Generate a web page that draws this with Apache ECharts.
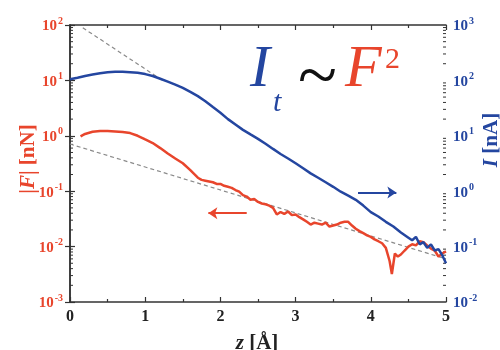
<!DOCTYPE html>
<html><head><meta charset="utf-8">
<script src="https://cdn.jsdelivr.net/npm/echarts@6/dist/echarts.min.js"></script>
<style>html,body{margin:0;padding:0;background:#fff}#c{width:500px;height:350px}</style>
</head><body><div id="c"></div>
<script>
// ---- data ----
const blueZ = [0.0,0.1,0.2,0.3,0.4,0.5,0.6,0.7,0.8,0.9,1.0,1.1,1.2,1.3,1.4,1.5,1.6,1.7,1.8,1.9,2.0,2.1,2.2,2.3,2.4,2.5,2.6,2.7,2.8,2.9,3.0,3.1,3.2,3.3,3.4,3.5,3.6,3.7,3.8,3.9,4.0,4.1,4.2,4.3,4.4,4.5,4.55,4.6,4.65,4.7,4.75,4.8,4.85,4.9,4.95,5.0];
const blueI = [105,112,120,128,135,140,143,143,141,137,130,120,107,95,84,73,62,52,42,33,26,20,16,12.8,10.6,8.8,7.2,5.8,4.7,3.9,3.2,2.6,2.1,1.75,1.45,1.2,0.98,0.83,0.7,0.55,0.42,0.35,0.28,0.23,0.18,0.145,0.13,0.15,0.11,0.12,0.095,0.11,0.085,0.09,0.07,0.05];
const redZ = [0.14,0.2,0.3,0.4,0.5,0.6,0.7,0.8,0.9,1.0,1.1,1.2,1.3,1.4,1.5,1.6,1.7,1.75,1.8,1.85,1.9,1.95,2.0,2.05,2.1,2.15,2.2,2.25,2.3,2.35,2.4,2.45,2.5,2.55,2.6,2.65,2.7,2.75,2.8,2.85,2.9,2.95,3.0,3.05,3.1,3.15,3.2,3.25,3.3,3.35,3.4,3.45,3.5,3.55,3.6,3.65,3.7,3.75,3.8,3.85,3.9,3.95,4.0,4.05,4.1,4.15,4.2,4.25,4.28,4.32,4.36,4.4,4.45,4.5,4.55,4.6,4.65,4.7,4.75,4.8,4.85,4.9,4.95,5.0];
const redF = [0.98,1.08,1.18,1.22,1.22,1.2,1.17,1.12,1.0,0.86,0.74,0.6,0.48,0.39,0.32,0.24,0.175,0.16,0.155,0.15,0.145,0.135,0.135,0.125,0.12,0.115,0.105,0.098,0.085,0.08,0.07,0.072,0.064,0.06,0.058,0.055,0.05,0.038,0.042,0.039,0.043,0.037,0.038,0.034,0.031,0.028,0.025,0.027,0.026,0.025,0.027,0.023,0.024,0.025,0.027,0.028,0.028,0.024,0.021,0.019,0.0175,0.016,0.015,0.0135,0.0125,0.0115,0.0095,0.0055,0.0032,0.0075,0.0066,0.0072,0.0085,0.01,0.011,0.0105,0.0125,0.012,0.0105,0.0092,0.0085,0.0066,0.0075,0.0082];
const fitUpperZ = [0.17, 1.25];
const fitUpperI = [890, 96];
const fitLowerZ = [0, 5];
const fitLowerF = [0.71, 0.006];
const arrowBlueZ = [3.83, 4.34];
const arrowBlueI = [0.95, 0.95];
const arrowRedZ = [2.35, 1.84];
const arrowRedF = [0.04, 0.04];
const xTickLabels = ['0','1','2','3','4','5'];
const leftRange = [0.001, 100];
const rightRange = [0.01, 1000];

const RED = '#e8452c', BLUE = '#2446a0', AX = '#333';
const zip = (a, b) => a.map((v, i) => [v, b[i]]);

// log minor tick positions (2..9 x 10^k) for decoration
function minorVals(lo, hi) {
  const out = [];
  for (let k = Math.round(Math.log10(lo)); k < Math.round(Math.log10(hi)); k++)
    for (let d = 2; d <= 9; d++) out.push(d * Math.pow(10, k));
  return out;
}

function supFmt(v) {
  const e = Math.round(Math.log10(v));
  return '{b|10}{s|' + e + '}';
}
function yLabel(color) {
  return {
    formatter: supFmt, color: color, margin: 7,
    rich: {
      b: {fontFamily: 'Liberation Serif', fontWeight: 'bold', fontSize: 15, color: color, lineHeight: 18, verticalAlign: 'bottom'},
      s: {fontFamily: 'Liberation Serif', fontWeight: 'bold', fontSize: 10, color: color, lineHeight: 18, verticalAlign: 'top', padding: [0,0,0,1]}
    }
  };
}

const chart = echarts.init(document.getElementById('c'), null, {renderer: 'canvas'});

chart.setOption({
  animation: false,
  backgroundColor: '#fff',
  grid: {left: 70, right: 54, top: 25, bottom: 48},
  xAxis: [{
    type: 'value', min: 0, max: 5, interval: 1,
    axisLine: {show: true, lineStyle: {color: AX, width: 1.5}},
    axisTick: {show: true, inside: true, length: 5, lineStyle: {color: AX, width: 1.2}},
    minorTick: {show: true, splitNumber: 2, length: 3, lineStyle: {color: AX, width: 1.2}},
    splitLine: {show: false},
    axisLabel: {
      color: '#222', fontFamily: 'Liberation Serif', fontWeight: 'bold', fontSize: 16, margin: 7,
      formatter: (v) => xTickLabels[Math.round(v)]
    }
  }, {
    type: 'value', min: 0, max: 5, interval: 1, position: 'top',
    axisLine: {show: true, onZero: false, lineStyle: {color: AX, width: 1.5}},
    axisTick: {show: true, inside: true, length: 5, lineStyle: {color: AX, width: 1.2}},
    minorTick: {show: true, splitNumber: 2, length: 3, lineStyle: {color: AX, width: 1.2}},
    splitLine: {show: false}, axisLabel: {show: false}
  }],
  yAxis: [{
    type: 'log', logBase: 10, min: leftRange[0], max: leftRange[1], position: 'left',
    axisLine: {show: true, lineStyle: {color: AX, width: 1.5}},
    axisTick: {show: true, inside: true, length: 5, lineStyle: {color: AX, width: 1.2}},
    splitLine: {show: false},
    axisLabel: yLabel(RED)
  }, {
    type: 'log', logBase: 10, min: rightRange[0], max: rightRange[1], position: 'right',
    axisLine: {show: true, lineStyle: {color: AX, width: 1.5}},
    axisTick: {show: true, inside: true, length: 5, lineStyle: {color: AX, width: 1.2}},
    splitLine: {show: false},
    axisLabel: yLabel(BLUE)
  }],
  series: [
    {
      type: 'custom', xAxisIndex: 0, yAxisIndex: 0, silent: true, clip: false,
      data: minorVals(leftRange[0], leftRange[1]).map(v => [0, v]),
      renderItem: (params, api) => {
        const p = api.coord([api.value(0), api.value(1)]);
        return {type: 'line', shape: {x1: p[0], y1: p[1], x2: p[0] + 3, y2: p[1]}, style: {stroke: AX, lineWidth: 1}};
      }
    },
    {
      type: 'custom', xAxisIndex: 0, yAxisIndex: 1, silent: true, clip: false,
      data: minorVals(rightRange[0], rightRange[1]).map(v => [5, v]),
      renderItem: (params, api) => {
        const p = api.coord([api.value(0), api.value(1)]);
        return {type: 'line', shape: {x1: p[0], y1: p[1], x2: p[0] - 3, y2: p[1]}, style: {stroke: AX, lineWidth: 1}};
      }
    },
    {
      name: 'fitLower', type: 'line', xAxisIndex: 0, yAxisIndex: 0, data: zip(fitLowerZ, fitLowerF),
      showSymbol: false, silent: true,
      lineStyle: {color: '#8a8a8a', width: 1.2, type: [4, 3]},
      markLine: {
        silent: true, symbol: ['none', 'arrow'], symbolSize: 9, label: {show: false},
        lineStyle: {color: RED, width: 2, type: 'solid'},
        data: [[{coord: [arrowRedZ[0], arrowRedF[0]]}, {coord: [arrowRedZ[1], arrowRedF[1]]}]]
      }
    },
    {
      name: 'fitUpper', type: 'line', xAxisIndex: 0, yAxisIndex: 1, data: zip(fitUpperZ, fitUpperI),
      showSymbol: false, silent: true,
      lineStyle: {color: '#8a8a8a', width: 1.2, type: [4, 3]},
      markLine: {
        silent: true, symbol: ['none', 'arrow'], symbolSize: 9, label: {show: false},
        lineStyle: {color: BLUE, width: 2, type: 'solid'},
        data: [[{coord: [arrowBlueZ[0], arrowBlueI[0]]}, {coord: [arrowBlueZ[1], arrowBlueI[1]]}]]
      }
    },
    {
      name: 'F', type: 'line', xAxisIndex: 0, yAxisIndex: 0, data: zip(redZ, redF),
      showSymbol: false, lineStyle: {color: RED, width: 2.5}
    },
    {
      name: 'I', type: 'line', xAxisIndex: 0, yAxisIndex: 1, data: zip(blueZ, blueI),
      showSymbol: false, lineStyle: {color: BLUE, width: 2.5}
    }
  ],
  graphic: [
    {type: 'text', x: 250, y: 70, style: {text: 'I', font: 'italic 60px "Liberation Serif"', fill: BLUE, verticalAlign: 'middle', align: 'left'}},
    {type: 'text', x: 273, y: 103, style: {text: 't', font: 'italic 30px "Liberation Serif"', fill: BLUE, verticalAlign: 'middle', align: 'left'}},
    {type: 'text', x: 298, y: 80, style: {text: '~', font: '72px "Liberation Serif"', fill: '#111', verticalAlign: 'middle', align: 'left'}},
    {type: 'text', x: 345, y: 70, style: {text: 'F', font: 'italic 60px "Liberation Serif"', fill: RED, verticalAlign: 'middle', align: 'left'}},
    {type: 'text', x: 385, y: 60, style: {text: '2', font: '30px "Liberation Serif"', fill: RED, verticalAlign: 'middle', align: 'left'}},
    {type: 'text', x: 29, y: 159, rotation: Math.PI / 2, style: {
      text: '{a||}{i|F}{a|| [nN]}', align: 'center', verticalAlign: 'middle',
      rich: {a: {font: 'bold 21px "Liberation Serif"', fill: RED}, i: {font: 'italic bold 21px "Liberation Serif"', fill: RED}}
    }},
    {type: 'text', x: 492, y: 140, rotation: Math.PI / 2, style: {
      text: '{i|I}{a| [nA]}', align: 'center', verticalAlign: 'middle',
      rich: {a: {font: 'bold 21px "Liberation Serif"', fill: BLUE}, i: {font: 'italic bold 21px "Liberation Serif"', fill: BLUE}}
    }},
    {type: 'text', x: 257, y: 344, style: {
      text: '{i|z}{a| [Å]}', align: 'center', verticalAlign: 'middle',
      rich: {a: {font: 'bold 21px "Liberation Serif"', fill: '#222'}, i: {font: 'italic bold 21px "Liberation Serif"', fill: '#222'}}
    }}
  ]
});
</script></body></html>
